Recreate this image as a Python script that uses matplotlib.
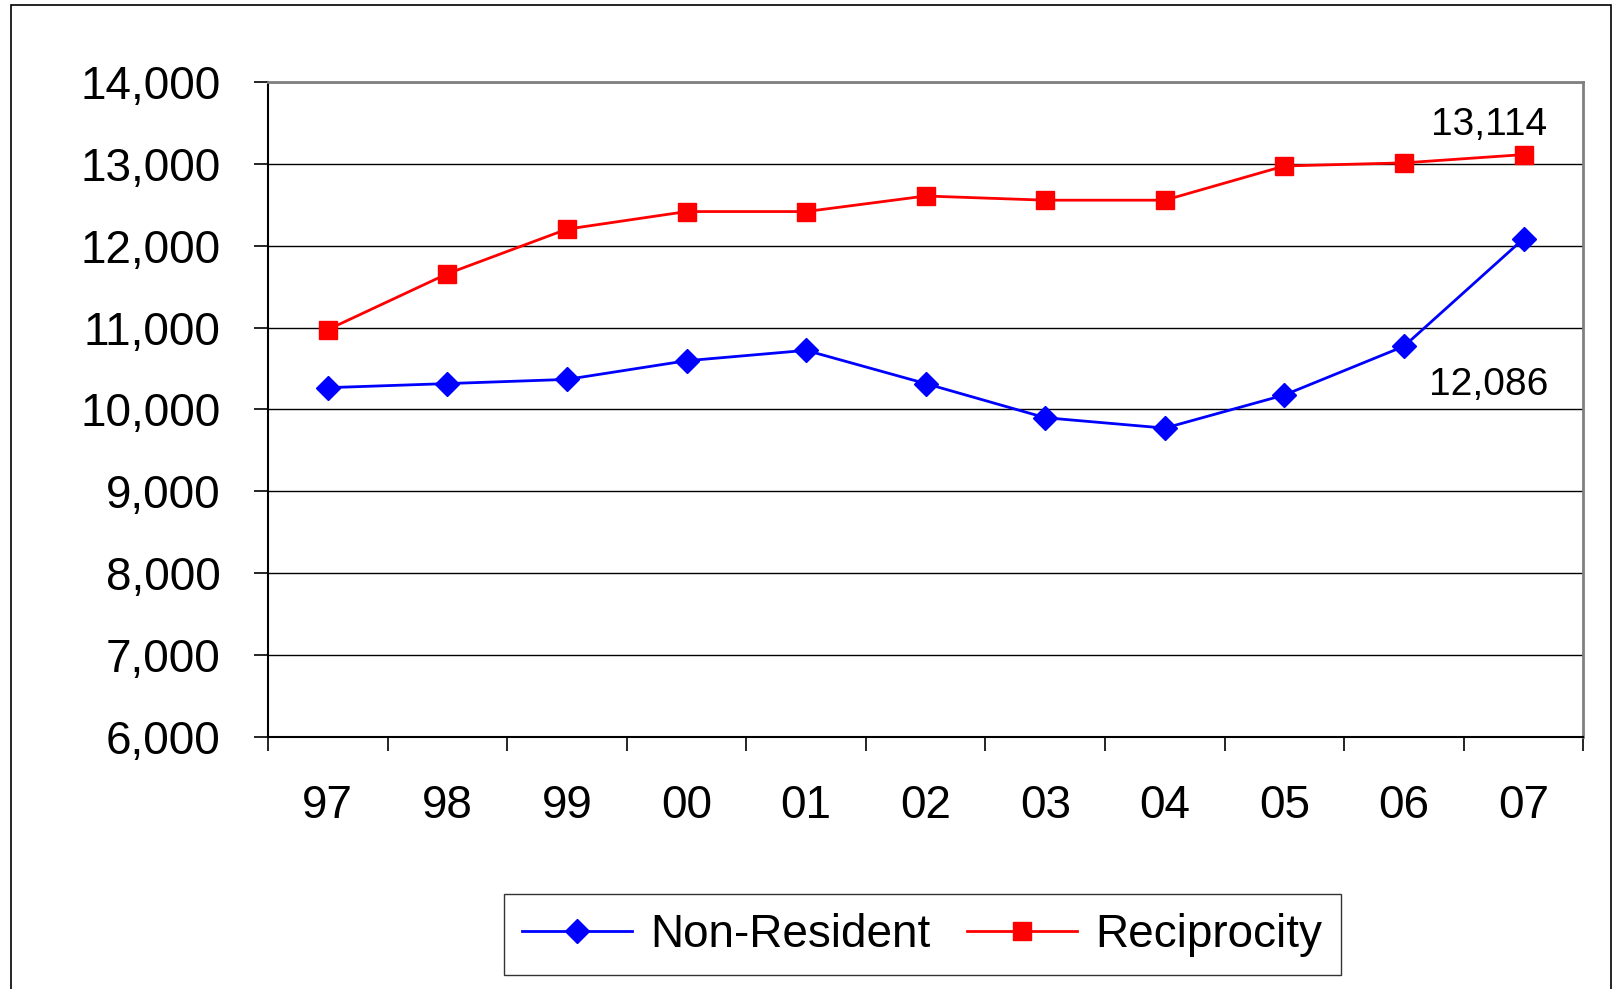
import matplotlib.pyplot as plt
import numpy as np
from matplotlib.ticker import FuncFormatter, FixedLocator

years = ['97', '98', '99', '00', '01', '02', '03', '04', '05', '06', '07']
non_resident = [10266, 10316, 10367, 10595, 10722, 10316, 9899, 9772, 10177, 10772, 12086]
reciprocity = [10975, 11658, 12203, 12418, 12418, 12608, 12557, 12557, 12975, 13013, 13114]

plt.rcParams['font.family'] = ['Liberation Sans', 'DejaVu Sans']

fig = plt.figure(figsize=(16.24, 9.89), dpi=100)
fig.patches.append(plt.Rectangle((0.007, -0.01), 0.985, 1.005, transform=fig.transFigure,
                                 fill=False, edgecolor='black', linewidth=1.2))
ax = fig.add_axes([0.165, 0.255, 0.81, 0.662])

x = np.arange(len(years))
l1, = ax.plot(x, non_resident, color='blue', marker='D', markersize=12, linewidth=2, label='Non-Resident')
l2, = ax.plot(x, reciprocity, color='red', marker='s', markersize=13, linewidth=2, label='Reciprocity')

ax.set_ylim(6000, 14000)
ax.set_xlim(-0.5, len(years) - 0.5)
ax.set_yticks(np.arange(6000, 14001, 1000))
ax.yaxis.set_major_formatter(FuncFormatter(lambda v, p: f'{int(v):,}'))
ax.yaxis.grid(True, color='black', linewidth=1)
ax.set_axisbelow(True)

ax.set_xticks(x)
ax.set_xticklabels(years)
ax.xaxis.set_minor_locator(FixedLocator(np.arange(-0.5, len(years), 1)))
ax.tick_params(axis='x', which='major', length=0, pad=34, labelsize=33)
ax.tick_params(axis='x', which='minor', length=10, width=1.2)
ax.tick_params(axis='y', length=10, width=1.2, labelsize=33, pad=24)

for s in ['top', 'right']:
    ax.spines[s].set_color('gray')
    ax.spines[s].set_linewidth(2)
for s in ['left', 'bottom']:
    ax.spines[s].set_linewidth(1.5)

ax.annotate(f'{reciprocity[-1]:,}', (x[-1], reciprocity[-1]), xytext=(-25, 8),
            textcoords='offset points', ha='center', va='bottom', fontsize=28)
ax.annotate(f'{non_resident[-1]:,}', (x[-1], non_resident[-1]), xytext=(-25, -118),
            textcoords='offset points', ha='center', va='bottom', fontsize=28)

fig.legend(handles=[l1, l2], loc='center', bbox_to_anchor=(0.568, 0.055), ncol=2,
           fontsize=33, frameon=True, fancybox=False, edgecolor='black',
           handlelength=2.4, columnspacing=0.8, handletextpad=0.4, borderpad=0.4)

fig.savefig('out.png', dpi=100)
